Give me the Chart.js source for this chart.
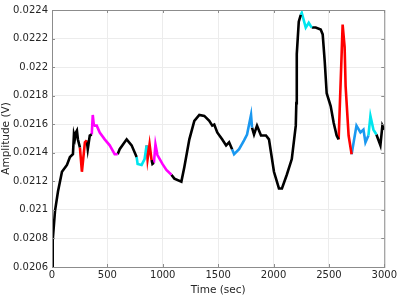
<!DOCTYPE html>
<html lang="en">
<head>
  <meta charset="UTF-8" />
  <title>Amplitude vs Time</title>
  <script src="https://cdn.jsdelivr.net/npm/chart.js"></script>
  <style>
    body { margin: 0; background: #fff; }
    #wrap { width: 399px; height: 297px; }
  </style>
</head>
<body>
  <div id="wrap"><canvas id="chart" width="399" height="297"></canvas></div>

  <script>
    // segments of the trace, each [time (sec), amplitude (V)]
    const black1 = [[0,0.02060],[4,0.020720],[9,0.020786],[27,0.020992],[54,0.021129],[90,0.021267],[135,0.021315],[162,0.021370],[189,0.021390],[198,0.021528],[207,0.021500],[216,0.021542],[225,0.021555],[234,0.021493],[252,0.021438]];
    const red1 = [[252,0.021438],[270,0.021267],[297,0.021473],[314,0.021487]];
    const black2 = [[314,0.021487],[323,0.021425],[341,0.021521],[359,0.021528]];
    const magenta1 = [[359,0.021528],[368,0.021665],[377,0.021600],[386,0.021590],[404,0.021590],[431,0.021542],[476,0.021494],[521,0.021452],[566,0.021390],[593,0.021390]];
    const black3 = [[593,0.021390],[611,0.021425],[674,0.021494],[719,0.021452],[764,0.021370]];
    const cyan1 = [[764,0.021370],[773,0.021322],[809,0.021315],[836,0.021356],[854,0.021452]];
    const red2 = [[854,0.021452],[863,0.021356],[881,0.021459],[899,0.021349]];
    const black4 = [[899,0.021349],[907,0.021322],[920,0.021330]];
    const magenta2 = [[920,0.021330],[934,0.021459],[952,0.021384],[997,0.021322],[1033,0.021280],[1078,0.021246]];
    const black5 = [[1078,0.021246],[1105,0.021219],[1168,0.021198],[1195,0.021301],[1240,0.021494],[1285,0.021624],[1330,0.021665],[1375,0.021658],[1420,0.021624],[1447,0.021590],[1465,0.021597],[1492,0.021542],[1536,0.021494],[1572,0.021452],[1599,0.021473],[1626,0.021425]];
    const blue1 = [[1626,0.021425],[1644,0.021390],[1689,0.021425],[1734,0.021487],[1761,0.021528],[1797,0.021665],[1806,0.021576]];
    const black6 = [[1806,0.021576],[1824,0.021528],[1851,0.021590],[1887,0.021521],[1932,0.021521],[1959,0.021494],[1977,0.021404],[2004,0.021267],[2049,0.021150],[2076,0.021150],[2120,0.021246],[2165,0.021356],[2201,0.021590],[2206,0.021748],[2210,0.022091],[2228,0.022318],[2246,0.022366]];
    const cyan2 = [[2246,0.022366],[2255,0.022380],[2291,0.022277],[2318,0.022311],[2345,0.022277]];
    const black7 = [[2345,0.022277],[2381,0.022277],[2426,0.022263],[2444,0.022229],[2462,0.022043],[2480,0.021817],[2516,0.021727],[2543,0.021610],[2570,0.021521],[2588,0.021494]];
    const red3 = [[2588,0.021494],[2615,0.022091],[2624,0.022298],[2642,0.022140],[2651,0.021865],[2678,0.021521],[2705,0.021390]];
    const blue2 = [[2705,0.021390],[2749,0.021590],[2785,0.021542],[2812,0.021562],[2830,0.021473],[2857,0.021521]];
    const cyan3 = [[2857,0.021521],[2875,0.021658],[2902,0.021562],[2929,0.021528]];
    const black8 = [[2929,0.021528],[2965,0.021452],[2983,0.021590],[3000,0.021562]];

    const xTicks = [0, 500, 1000, 1500, 2000, 2500, 3000];
    const yTicks = ["0.0206","0.0208","0.021","0.0212","0.0214","0.0216","0.0218","0.022","0.0222","0.0224"];

    const BLACK = "#000000", RED = "#ff0000", MAGENTA = "#ff00ff", CYAN = "#00e5ee", BLUE = "#1a98f0";
    const segments = [
      [black1, BLACK], [red1, RED], [black2, BLACK], [magenta1, MAGENTA], [black3, BLACK],
      [cyan1, CYAN], [red2, RED], [black4, BLACK], [magenta2, MAGENTA], [black5, BLACK],
      [blue1, BLUE], [black6, BLACK], [cyan2, CYAN], [black7, BLACK], [red3, RED],
      [blue2, BLUE], [cyan3, CYAN], [black8, BLACK]
    ];

    const datasets = segments.map(([pts, color]) => ({
      data: pts.map(p => ({ x: p[0], y: p[1] })),
      borderColor: color,
      borderWidth: 2.6,
      pointRadius: 0,
      tension: 0,
      fill: false
    }));

    // MATLAB style box with inward ticks
    const boxPlugin = {
      id: "box",
      afterDraw(chart) {
        const { ctx, chartArea: a, scales } = chart;
        ctx.save();
        ctx.strokeStyle = "#8c8c8c";
        ctx.lineWidth = 1;
        ctx.strokeRect(a.left + 0.5, a.top + 0.5, a.right - a.left, a.bottom - a.top);
        ctx.beginPath();
        xTicks.forEach(t => {
          const px = Math.round(scales.x.getPixelForValue(t)) + 0.5;
          ctx.moveTo(px, a.bottom); ctx.lineTo(px, a.bottom - 3);
          ctx.moveTo(px, a.top); ctx.lineTo(px, a.top + 3);
        });
        yTicks.forEach(t => {
          const py = Math.round(scales.y.getPixelForValue(parseFloat(t))) + 0.5;
          ctx.moveTo(a.left, py); ctx.lineTo(a.left + 3, py);
          ctx.moveTo(a.right, py); ctx.lineTo(a.right - 3, py);
        });
        ctx.stroke();
        ctx.restore();
      }
    };

    new Chart(document.getElementById("chart"), {
      type: "line",
      data: { datasets },
      options: {
        responsive: false,
        animation: false,
        layout: { padding: { top: 5, right: 12, left: 0, bottom: 0 } },
        plugins: { legend: { display: false }, tooltip: { enabled: false } },
        scales: {
          x: {
            type: "linear",
            min: 0, max: 3000,
            afterBuildTicks: s => { s.ticks = xTicks.map(v => ({ value: v })); },
            afterFit: s => { s.height = 30; },
            ticks: { color: "#262626", font: { family: "DejaVu Sans", size: 10 }, padding: 2, maxRotation: 0, callback: v => String(v) },
            grid: { color: "#ececec", drawTicks: false },
            border: { display: false },
            title: { display: true, text: "Time (sec)", color: "#262626", font: { family: "DejaVu Sans", size: 10.5 }, padding: { top: 0, bottom: 0 } }
          },
          y: {
            min: 0.0206, max: 0.0224,
            afterBuildTicks: s => { s.ticks = yTicks.map(v => ({ value: parseFloat(v) })); },
            afterFit: s => { s.width = 52; },
            ticks: { color: "#262626", font: { family: "DejaVu Sans", size: 10 }, padding: 4, callback: (v, i) => yTicks[i] },
            grid: { color: "#ececec", drawTicks: false },
            border: { display: false },
            title: { display: true, text: "Amplitude (V)", color: "#262626", font: { family: "DejaVu Sans", size: 10.5 }, padding: { top: 0, bottom: 0 } }
          }
        }
      },
      plugins: [boxPlugin]
    });
  </script>
</body>
</html>
